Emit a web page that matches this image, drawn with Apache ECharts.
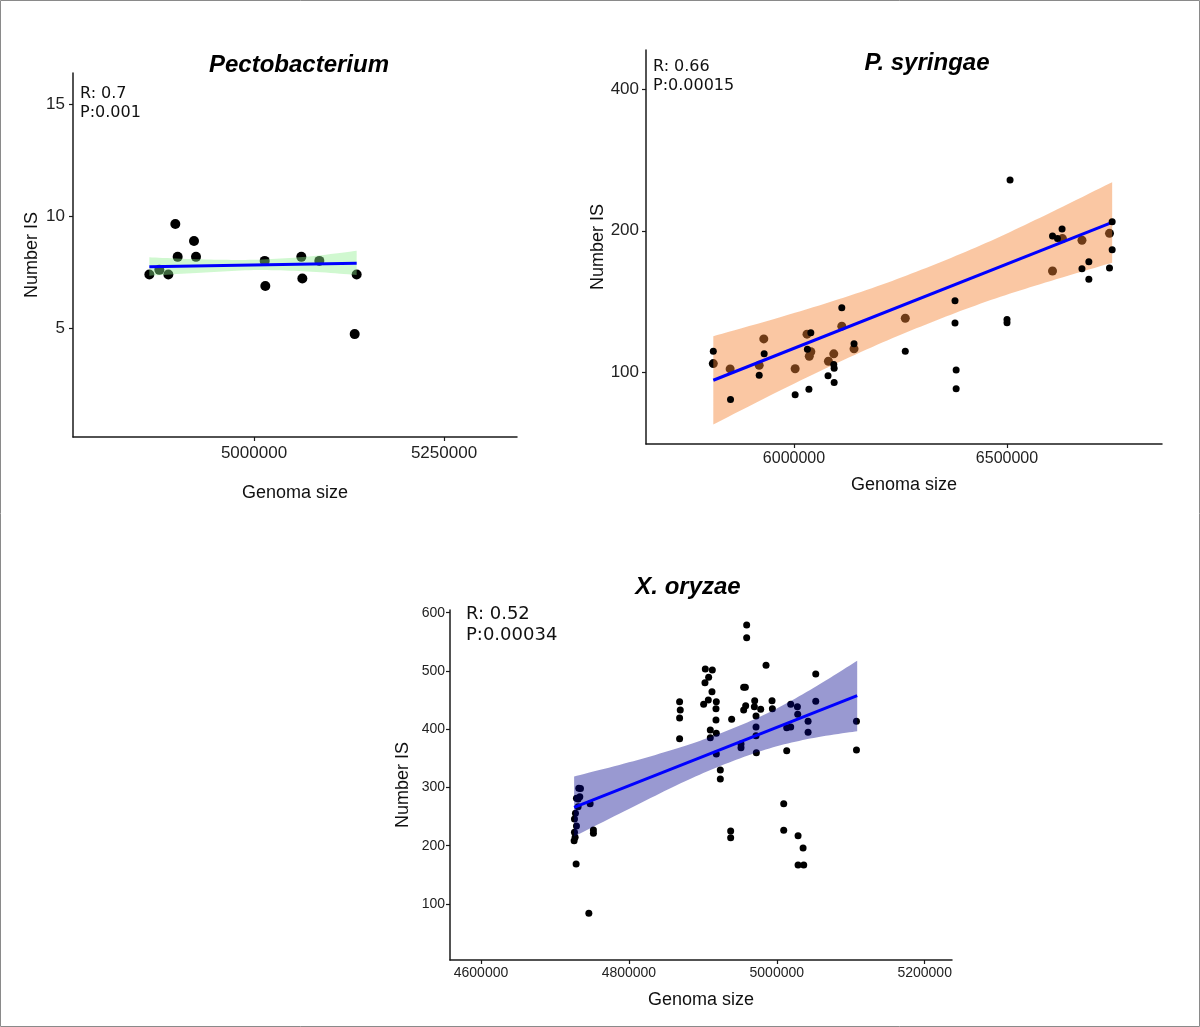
<!DOCTYPE html>
<html>
<head>
<meta charset="utf-8">
<script src="https://cdn.jsdelivr.net/npm/echarts@6/dist/echarts.min.js"></script>
<style>
html,body{margin:0;padding:0;background:#fff;}
#chart{width:1200px;height:1027px;}
</style>
</head>
<body>
<div id="chart"></div>
<script>
// ---------- Pectobacterium ----------
const pectoX = [4862280, 4875440, 4887280, 4896490, 4899560, 4921050, 4923680, 5014040, 5014910, 5062280, 5063600, 5085970, 5135090, 5132460];
const pectoY = [7.41, 7.62, 7.41, 9.67, 8.20, 8.91, 8.20, 8.02, 6.90, 8.20, 7.23, 8.02, 7.41, 4.75];
const pectoFitX = [4862280, 5135090];
const pectoFitY = [7.76, 7.91];
const pectoBandX = [4862280, 4930000, 5000000, 5070000, 5135090];
const pectoBandLo = [7.36, 7.49, 7.61, 7.55, 7.39];
const pectoBandHi = [8.18, 8.09, 8.07, 8.21, 8.47];
const pectoXTicks = [5000000, 5250000];
const pectoYTicks = [5, 10, 15];

// ---------- P. syringae ----------
const syrUnderX = [5810580, 5850090, 5918310, 5929080, 6002690, 6030520, 6035910, 6039500, 6080790, 6093360, 6112210, 6140940, 6261230, 6606850, 6630180, 6675960, 6740600];
const syrUnderY = [104.2, 101.5, 103.3, 117.6, 101.6, 120.4, 108.0, 110.4, 105.4, 109.3, 125.2, 112.0, 130.2, 164.2, 192.5, 190.9, 197.5];
const syrOverX = [5810580, 5850990, 5918310, 5929980, 6002690, 6031420, 6039500, 6035010, 6079890, 6093360, 6094260, 6094260, 6112210, 6140940, 6261230, 6377940, 6377940, 6380630, 6380630, 6500000, 6500000, 6507180, 6606850, 6618510, 6629280, 6675960, 6692120, 6692120, 6740600, 6746880, 6746880];
const syrOverY = [110.7, 87.3, 98.4, 109.4, 89.4, 111.8, 121.2, 91.8, 98.2, 103.7, 101.8, 95.0, 137.0, 114.8, 110.7, 141.9, 127.1, 101.0, 92.1, 129.4, 127.3, 256.6, 194.9, 192.5, 201.8, 166.0, 171.8, 157.6, 166.6, 209.1, 182.3];
const syrFitX = [5810580, 6746880];
const syrFitY = [96.0, 208.4];
const syrBandX = [5810580, 6000000, 6170000, 6310000, 6450000, 6590000, 6746880];
const syrBandLo = [77.3, 94.4, 111.6, 126.3, 141.1, 155.1, 171.0];
const syrBandHi = [119.2, 133.5, 149.5, 166.7, 188.3, 216.0, 254.0];
const syrXTicks = [6000000, 6500000];
const syrYTicks = [100, 200, 400];

// ---------- X. oryzae ----------
const oryX = [4725930, 4726380, 4726380, 4727730, 4728630, 4729080, 4727280, 4731340, 4731340, 4732260, 4733610, 4734510, 4729080, 4747590, 4745830, 4752000, 4752000,
  4868560, 4869460, 4868560, 4868560, 4903320, 4907830, 4912800, 4902870, 4912350, 4901070, 4907380, 4918210, 4917760, 4917760, 4910090, 4910090, 4918210, 4918210, 4923630, 4923630,
  4938970, 4937620, 4937620, 4951600, 4951600, 4955210, 4957470, 4959270, 4959270, 4955210, 4957920, 4970110, 4969660, 4971910, 4971910, 4971910, 4972360, 4978230, 4985450, 4993570, 4994020,
  5009360, 5009360, 5013420, 5018830, 5013420, 5018830, 5027860, 5028310, 5028770, 5035540, 5028770, 5036440, 5042310, 5042310, 5052680, 5052680, 5107730, 5107730];
const oryY = [208.7, 223.0, 245.9, 255.6, 168.7, 233.9, 214.5, 267.0, 280.2, 298.6, 284.2, 298.3, 281.4, 272.2, 84.0, 227.0, 221.3,
  447.3, 433.0, 419.3, 383.7, 503.4, 489.1, 501.6, 479.9, 464.4, 442.8, 450.3, 447.3, 435.3, 415.8, 398.7, 385.5, 393.0, 357.5, 330.0, 314.6,
  417.0, 225.3, 213.8, 374.6, 368.3, 471.9, 471.9, 578.9, 557.1, 433.0, 440.2, 448.9, 438.6, 422.7, 403.8, 388.9, 359.7, 434.2, 509.7, 448.9, 435.3,
  272.2, 226.5, 402.6, 403.8, 363.2, 442.8, 438.6, 425.5, 217.2, 196.1, 166.9, 166.9, 413.6, 394.7, 494.8, 447.9, 413.6, 364.3];
const oryFitX = [4725930, 5108730];
const oryFitY = [266.0, 457.5];
const oryBandX = [4725930, 4800000, 4870000, 4930000, 4990000, 5050000, 5108730];
const oryBandLo = [216, 263.1, 307.1, 340.1, 367.1, 385.1, 396.5];
const oryBandHi = [319, 343.1, 369.1, 396.1, 429.1, 471.1, 517.5];
const oryXTicks = [4600000, 4800000, 5000000, 5200000];
const oryYTicks = [100, 200, 300, 400, 500, 600];

const zip = (xs, ys) => xs.map((x, i) => [x, ys[i]]);
const AX = '#1a1a1a';

function xAxisCfg(idx, min, max, ticks, font, margin, gap) {
  return {
    type: 'value', gridIndex: idx, min: min, max: max, name: 'Genoma size',
    nameLocation: 'middle', nameGap: gap,
    nameTextStyle: {fontFamily: 'Liberation Sans', fontSize: 18, color: '#111'},
    axisLine: {show: true, onZero: false, lineStyle: {color: AX, width: 1.5}},
    axisTick: {show: true, length: 4, customValues: ticks, lineStyle: {color: AX, width: 1.2}},
    axisLabel: {customValues: ticks, margin: margin, fontFamily: font.family, fontSize: font.size, color: '#222',
      formatter: v => String(Math.round(v))},
    splitLine: {show: false}
  };
}
function yAxisCfg(idx, type, min, max, ticks, font, margin, gap) {
  return {
    type: type, gridIndex: idx, min: min, max: max, name: 'Number IS',
    nameLocation: 'middle', nameGap: gap, nameRotate: 90,
    nameTextStyle: {fontFamily: 'Liberation Sans', fontSize: 18, color: '#111'},
    axisLine: {show: true, onZero: false, lineStyle: {color: AX, width: 1.5}},
    axisTick: {show: true, length: 4, customValues: ticks, lineStyle: {color: AX, width: 1.2}},
    axisLabel: {customValues: ticks, margin: margin, fontFamily: font.family, fontSize: font.size, color: '#222',
      formatter: v => String(Math.round(v))},
    splitLine: {show: false}
  };
}
// smooth a pixel-space polyline (Catmull-Rom) for drawing the band edges
function smoothPath(pts, steps) {
  const out = [];
  for (let i = 0; i < pts.length - 1; i++) {
    const p0 = pts[Math.max(i - 1, 0)], p1 = pts[i], p2 = pts[i + 1], p3 = pts[Math.min(i + 2, pts.length - 1)];
    for (let s = 0; s < steps; s++) {
      const t = s / steps, t2 = t * t, t3 = t2 * t;
      out.push([0, 1].map(k => 0.5 * ((2 * p1[k]) + (-p0[k] + p2[k]) * t +
        (2 * p0[k] - 5 * p1[k] + 4 * p2[k] - p3[k]) * t2 + (-p0[k] + 3 * p1[k] - 3 * p2[k] + p3[k]) * t3)));
    }
  }
  out.push(pts[pts.length - 1]);
  return out;
}
function bandSeries(idx, xs, lo, hi, color) {
  return {
    type: 'custom', xAxisIndex: idx, yAxisIndex: idx, z: 3, silent: true,
    data: xs.map((x, i) => [x, lo[i], hi[i]]),
    renderItem: function (params, api) {
      if (params.dataIndex !== 0) return null;
      const up = xs.map((x, i) => api.coord([x, hi[i]]));
      const dn = xs.map((x, i) => api.coord([x, lo[i]]));
      const pts = smoothPath(up, 12).concat(smoothPath(dn, 12).reverse());
      return {type: 'polygon', shape: {points: pts}, style: {fill: color}};
    }
  };
}
function scatter(idx, data, size, z) {
  return {type: 'scatter', xAxisIndex: idx, yAxisIndex: idx, data: data, symbolSize: size, z: z,
    itemStyle: {color: '#000', opacity: 1}, silent: true};
}
function fitLine(idx, xs, ys) {
  return {type: 'line', xAxisIndex: idx, yAxisIndex: idx, data: zip(xs, ys), showSymbol: false, z: 4,
    lineStyle: {color: '#0000ff', width: 3}, silent: true};
}
function annot(x, y, lines, size) {
  return lines.map((t, i) => ({type: 'text', left: x, top: y + i * (size + 3), z: 10,
    style: {text: t, fontFamily: 'DejaVu Sans', fontSize: size, fill: '#111'}}));
}

const chart = echarts.init(document.getElementById('chart'), null, {renderer: 'canvas'});
const titleStyle = {fontFamily: 'Liberation Sans', fontStyle: 'italic', fontWeight: 'bold', fontSize: 24, color: '#000'};
chart.setOption({
  animation: false,
  backgroundColor: '#fff',
  title: [
    {text: 'Pectobacterium', left: 294, top: 48, textAlign: 'center', textStyle: titleStyle},
    {text: 'P. syringae', left: 922, top: 46, textAlign: 'center', textStyle: titleStyle},
    {text: 'X. oryzae', left: 683, top: 570, textAlign: 'center', textStyle: titleStyle}
  ],
  grid: [
    {left: 73, top: 73, width: 444, height: 364},
    {left: 646, top: 50, width: 516, height: 394},
    {left: 450, top: 610, width: 502, height: 350}
  ],
  xAxis: [
    xAxisCfg(0, 4761840, 5346050, pectoXTicks, {family: 'Liberation Sans', size: 17}, 8, 47),
    xAxisCfg(1, 5652580, 6863850, syrXTicks, {family: "'Liberation Sans Narrow', 'Liberation Sans'", size: 16}, 7, 32),
    xAxisCfg(2, 4558080, 5236930, oryXTicks, {family: 'Liberation Sans', size: 14}, 6, 31)
  ],
  yAxis: [
    yAxisCfg(0, 'value', 0.156, 16.41, pectoYTicks, {family: 'Liberation Sans', size: 17}, 8, 32),
    yAxisCfg(1, 'log', 70.2, 486, syrYTicks, {family: "'Liberation Sans Narrow', 'Liberation Sans'", size: 17}, 7, 37),
    yAxisCfg(2, 'value', 3.9, 604.6, oryYTicks, {family: 'Liberation Sans', size: 14}, 5, 38)
  ],
  series: [
    scatter(0, zip(pectoX, pectoY), 10, 2),
    bandSeries(0, pectoBandX, pectoBandLo, pectoBandHi, 'rgba(144,238,144,0.42)'),
    fitLine(0, pectoFitX, pectoFitY),

    scatter(1, zip(syrUnderX, syrUnderY), 9, 2),
    bandSeries(1, syrBandX, syrBandLo, syrBandHi, 'rgba(244,130,50,0.45)'),
    fitLine(1, syrFitX, syrFitY),
    scatter(1, zip(syrOverX, syrOverY), 7, 5),

    scatter(2, zip(oryX, oryY), 7, 2),
    bandSeries(2, oryBandX, oryBandLo, oryBandHi, 'rgba(0,0,139,0.4)'),
    fitLine(2, oryFitX, oryFitY)
  ],
  graphic: [
    {type: 'rect', shape: {x: 0.5, y: 0.5, width: 1199, height: 1026}, style: {fill: 'none', stroke: '#8a8a8a', lineWidth: 1}, z: 0},
    ...annot(80, 86, ['R: 0.7', 'P:0.001'], 16),
    ...annot(653, 59, ['R: 0.66', 'P:0.00015'], 16),
    ...annot(466, 605, ['R: 0.52', 'P:0.00034'], 18)
  ]
});
</script>
</body>
</html>
